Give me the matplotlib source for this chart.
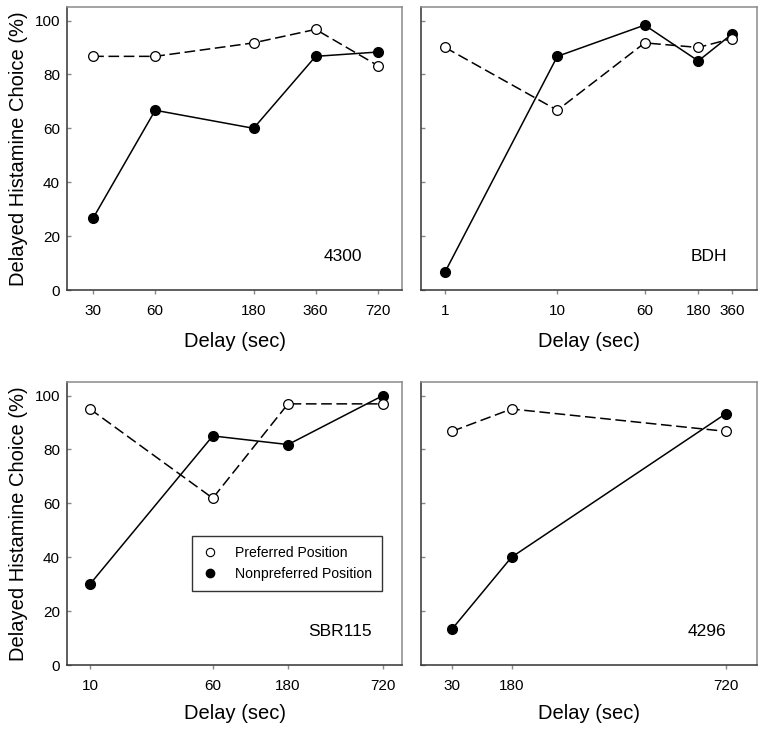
import matplotlib
matplotlib.use("Agg")
import matplotlib.pyplot as plt
from matplotlib.ticker import FixedLocator, FixedFormatter, NullLocator

plt.rcParams["font.family"] = ["Liberation Sans", "DejaVu Sans"]

# delays (sec) and % delayed histamine choice per subject
delays_4300 = [30, 60, 180, 360, 720]
pref_4300 = [86.7, 86.7, 91.7, 96.7, 83.3]
nonpref_4300 = [26.7, 66.7, 60.0, 86.7, 88.3]

delays_bdh = [1, 10, 60, 180, 360]
pref_bdh = [90.0, 66.7, 91.7, 90.0, 93.3]
nonpref_bdh = [6.7, 86.7, 98.3, 85.0, 95.0]

delays_sbr115 = [10, 60, 180, 720]
pref_sbr115 = [95.0, 61.9, 96.9, 96.9]
nonpref_sbr115 = [30.0, 85.0, 81.8, 100.0]

delays_4296 = [30, 180, 720]
pref_4296 = [86.7, 95.0, 86.7]
nonpref_4296 = [13.3, 40.0, 93.3]

y_ticks = [0, 20, 40, 60, 80, 100]

panels = [
    ("4300", delays_4300, pref_4300, nonpref_4300, "log", (22.4, 945)),
    ("BDH", delays_bdh, pref_bdh, nonpref_bdh, "log", (0.61, 600)),
    ("SBR115", delays_sbr115, pref_sbr115, nonpref_sbr115, "log", (7.15, 950)),
    ("4296", delays_4296, pref_4296, nonpref_4296, "linear", (-48, 798)),
]

fig = plt.figure(figsize=(7.64, 7.32), dpi=100)
boxes = [
    (0.0877, 0.6038, 0.4385, 0.3866),
    (0.5510, 0.6038, 0.4398, 0.3866),
    (0.0877, 0.0915, 0.4385, 0.3866),
    (0.5510, 0.0915, 0.4398, 0.3866),
]

for index, (name, delays, pref, nonpref, scale, xlim) in enumerate(panels):
    ax = fig.add_axes(boxes[index])
    ax.set_xscale(scale)

    ax.plot(delays, nonpref, color="black", linewidth=1.1, linestyle="-",
            marker="o", markersize=7, markerfacecolor="black",
            markeredgecolor="black", label="Nonpreferred Position", zorder=3)
    ax.plot(delays, pref, color="black", linewidth=1.1, linestyle=(0, (7, 3)),
            marker="o", markersize=7, markerfacecolor="white",
            markeredgecolor="black", markeredgewidth=0.9,
            label="Preferred Position", zorder=4)

    ax.set_xlim(*xlim)
    ax.set_ylim(0, 105)

    ax.xaxis.set_major_locator(FixedLocator(delays))
    ax.xaxis.set_major_formatter(FixedFormatter([str(d) for d in delays]))
    ax.xaxis.set_minor_locator(NullLocator())
    ax.set_yticks(y_ticks)

    ax.tick_params(axis="x", direction="out", length=3, width=1,
                   color="#888888", labelsize=11, pad=7)
    ax.tick_params(axis="y", direction="in", length=3, width=1,
                   color="#888888", labelsize=11, pad=5)

    for side in ["left", "bottom"]:
        ax.spines[side].set_color("#333333")
        ax.spines[side].set_linewidth(1.1)
    for side in ["top", "right"]:
        ax.spines[side].set_color("#8a8a8a")
        ax.spines[side].set_linewidth(1.1)

    ax.set_xlabel("Delay (sec)", fontsize=14.5, labelpad=10 if index < 2 else 8)
    if index % 2 == 0:
        ax.set_ylabel("Delayed Histamine Choice (%)", fontsize=14.5, labelpad=5)
    else:
        ax.set_yticklabels([])

    right_pad = 0.12 if index == 0 else 0.09
    ax.text(1 - right_pad, 0.12, name, transform=ax.transAxes,
            ha="right", va="center", fontsize=12.5)

    if name == "SBR115":
        legend_handles = [
            plt.Line2D([], [], linestyle="none", marker="o", markersize=6,
                       markerfacecolor="white", markeredgecolor="black",
                       markeredgewidth=0.8),
            plt.Line2D([], [], linestyle="none", marker="o", markersize=6,
                       markerfacecolor="black", markeredgecolor="black"),
        ]
        leg = ax.legend(legend_handles, ["Preferred Position", "Nonpreferred Position"],
                        loc="upper left", bbox_to_anchor=(0.352, 0.48),
                        fontsize=10.1, frameon=True, fancybox=False,
                        edgecolor="black", borderpad=0.7, handletextpad=1.2,
                        labelspacing=0.5, handlelength=1.2)
        leg.get_frame().set_linewidth(1.0)

fig.savefig("out.png", dpi=100)
